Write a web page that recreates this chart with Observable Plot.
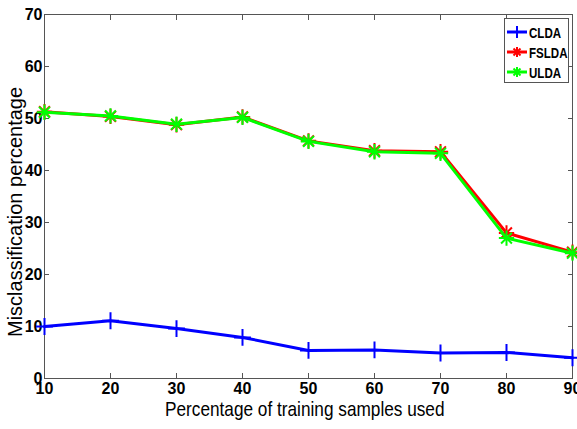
<!DOCTYPE html>
<html>
<head>
<meta charset="utf-8">
<script src="https://cdn.jsdelivr.net/npm/d3@7"></script>
<script src="https://cdn.jsdelivr.net/npm/@observablehq/plot@0.6"></script>
<style>
  html, body { margin: 0; padding: 0; background: #fff; }
  #wrap { position: relative; width: 577px; height: 429px; overflow: hidden; }
  .ttl { position: absolute; font-family: "Liberation Sans", Arial, sans-serif; color: #000; white-space: nowrap; }
  #legend { position: absolute; left: 504px; top: 18px; width: 63px; height: 63px; border: 1px solid #555; background: #fff;
            font-family: "Liberation Sans", Arial, sans-serif; font-weight: bold; font-size: 15px; }
  .li { position: absolute; left: 2px; height: 20px; display: flex; align-items: center; }
  .li svg { display: block; }
  .li span { display: inline-block; transform: scaleX(0.77); transform-origin: 0 50%; margin-left: 1px; }
</style>
</head>
<body>
<div id="wrap"></div>
<script>
const samples = [10, 20, 30, 40, 50, 60, 70, 80, 90];
const clda  = [10.0, 11.1, 9.6, 7.9, 5.4, 5.5, 4.9, 5.0, 4.0];
const fslda = [51.3, 50.4, 48.8, 50.3, 45.7, 43.8, 43.6, 28.0, 24.3];
const ulda  = [51.2, 50.5, 48.9, 50.2, 45.6, 43.6, 43.3, 27.0, 24.1];
const xTicks = [10, 20, 30, 40, 50, 60, 70, 80, 90];
const yTicks = [0, 10, 20, 30, 40, 50, 60, 70];
const seriesNames = ["CLDA", "FSLDA", "ULDA"];
const seriesColors = ["#0000ff", "#ff0000", "#00ff00"];

const rows = (vals, name) => samples.map((s, i) => ({x: s, y: vals[i], name}));
const dC = rows(clda, "CLDA"), dF = rows(fslda, "FSLDA"), dU = rows(ulda, "ULDA");

const tickFont = {fontFamily: "'Liberation Sans', Arial, sans-serif", fontWeight: "bold", fontSize: 16, fill: "#000"};

const chart = Plot.plot({
  width: 577, height: 429,
  marginTop: 14, marginLeft: 44, marginRight: 5, marginBottom: 51,
  style: {background: "#fff", overflow: "visible"},
  x: {domain: [10, 90]},
  y: {domain: [0, 70]},
  marks: [
    Plot.frame({stroke: "#555", strokeWidth: 1}),
    Plot.axisX({anchor: "bottom", ticks: xTicks, tickSize: -5, tickFormat: () => "", stroke: "#555", label: null}),
    Plot.axisX({anchor: "top", ticks: xTicks, tickSize: -5, tickFormat: () => "", stroke: "#555", label: null}),
    Plot.axisY({anchor: "left", ticks: yTicks, tickSize: -5, tickFormat: () => "", stroke: "#555", label: null}),
    Plot.axisY({anchor: "right", ticks: yTicks, tickSize: -5, tickFormat: () => "", stroke: "#555", label: null}),
    Plot.axisX({anchor: "bottom", ticks: xTicks, tickSize: 0, tickPadding: 4, label: null, ariaLabel: "xlab", ...tickFont}),
    Plot.axisY({anchor: "left", ticks: yTicks, tickSize: 0, tickPadding: 2, label: null, ariaLabel: "ylab", ...tickFont}),
    Plot.line(dC, {x: "x", y: "y", stroke: seriesColors[0], strokeWidth: 3}),
    Plot.dot(dC, {x: "x", y: "y", symbol: "plus", r: 5.5, stroke: seriesColors[0], strokeWidth: 2}),
    Plot.line(dF, {x: "x", y: "y", stroke: seriesColors[1], strokeWidth: 3}),
    Plot.dot(dF, {x: "x", y: "y", symbol: "plus", r: 5, stroke: seriesColors[1], strokeWidth: 2}),
    Plot.dot(dF, {x: "x", y: "y", symbol: "times", r: 5, stroke: seriesColors[1], strokeWidth: 2}),
    Plot.line(dU, {x: "x", y: "y", stroke: seriesColors[2], strokeWidth: 3}),
    Plot.dot(dU, {x: "x", y: "y", symbol: "plus", r: 5, stroke: seriesColors[2], strokeWidth: 2}),
    Plot.dot(dU, {x: "x", y: "y", symbol: "times", r: 5, stroke: seriesColors[2], strokeWidth: 2})
  ]
});

// condense the bold tick labels horizontally (narrow face)
chart.querySelectorAll("g[aria-label='xlab'] text, g[aria-label='ylab'] text").forEach(el => {
  const t = el.getAttribute("transform") || "";
  const x = el.getAttribute("x") || 0, y = el.getAttribute("y") || 0;
  el.removeAttribute("x"); el.removeAttribute("y");
  el.setAttribute("transform", `${t} translate(${x},${y}) scale(0.68,1)`);
});

const wrap = document.getElementById("wrap");
wrap.appendChild(chart);

const xt = document.createElement("div");
xt.className = "ttl";
xt.textContent = "Percentage of training samples used";
xt.style.cssText += "left:165px; top:397px; font-size:21px; transform-origin:0 50%; transform:scaleX(0.82);";
wrap.appendChild(xt);

const yt = document.createElement("div");
yt.className = "ttl";
yt.textContent = "Misclassification percentage";
yt.style.cssText += "left:4px; top:337px; font-size:20px; transform-origin:0 0; transform:rotate(-90deg);";
wrap.appendChild(yt);

const legend = document.createElement("div");
legend.id = "legend";
seriesNames.forEach((n, i) => {
  const item = document.createElement("div");
  item.className = "li";
  item.style.top = (3 + i * 20) + "px";
  const c = seriesColors[i];
  const sym = i === 0
    ? `<line x1="10" y1="4" x2="10" y2="16" stroke="${c}" stroke-width="2"/>`
    : `<line x1="10" y1="5" x2="10" y2="15" stroke="${c}" stroke-width="2"/><line x1="6.5" y1="6.5" x2="13.5" y2="13.5" stroke="${c}" stroke-width="2"/><line x1="13.5" y1="6.5" x2="6.5" y2="13.5" stroke="${c}" stroke-width="2"/>`;
  item.innerHTML = `<svg width="21" height="20"><line x1="0" y1="10" x2="20" y2="10" stroke="${c}" stroke-width="3"/>${sym}</svg><span>${n}</span>`;
  legend.appendChild(item);
});
wrap.appendChild(legend);
</script>
</body>
</html>
